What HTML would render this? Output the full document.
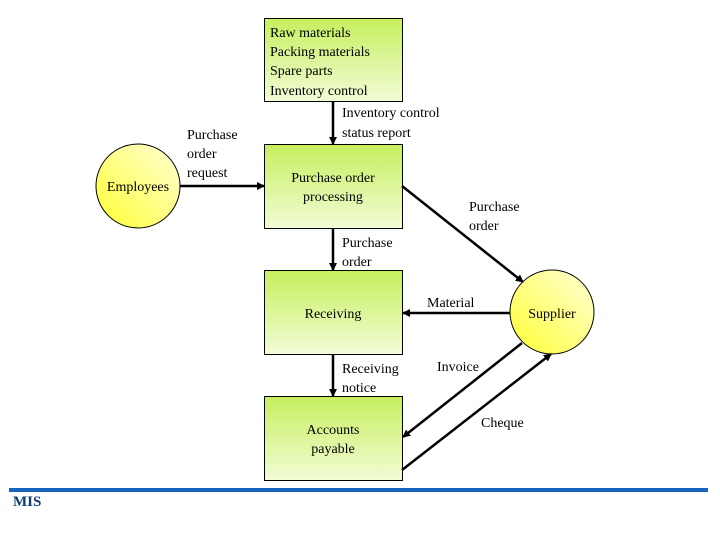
<!DOCTYPE html>
<html><head><meta charset="utf-8"><style>
html,body{margin:0;padding:0;background:#fff;}
svg{display:block;}
text{font-family:"Liberation Serif",serif;font-size:14px;fill:#000;}
</style></head><body>
<svg width="720" height="540" viewBox="0 0 720 540" xmlns="http://www.w3.org/2000/svg">
<defs>
<linearGradient id="g" x1="0" y1="0" x2="0" y2="1">
<stop offset="0" stop-color="#c6ef5e"/><stop offset="1" stop-color="#f2fcd6"/>
</linearGradient>
<linearGradient id="y" x1="0" y1="1" x2="1" y2="0">
<stop offset="0" stop-color="#ffff33"/><stop offset="1" stop-color="#ffffd8"/>
</linearGradient>
<marker id="a" markerWidth="8" markerHeight="8" refX="7" refY="4" orient="auto" markerUnits="userSpaceOnUse">
<path d="M0,0 L8,4 L0,8 z" fill="#000"/>
</marker>
</defs>
<rect x="264.5" y="18.5" width="138" height="83" fill="url(#g)" stroke="#000"/>
<rect x="264.5" y="144.5" width="138" height="84" fill="url(#g)" stroke="#000"/>
<rect x="264.5" y="270.5" width="138" height="84" fill="url(#g)" stroke="#000"/>
<rect x="264.5" y="396.5" width="138" height="84" fill="url(#g)" stroke="#000"/>
<circle cx="138" cy="186" r="42" fill="url(#y)" stroke="#000"/>
<circle cx="552" cy="312" r="42" fill="url(#y)" stroke="#000"/>
<g stroke="#000" stroke-width="2.5" marker-end="url(#a)">
<line x1="333" y1="102" x2="333" y2="144"/>
<line x1="333" y1="229" x2="333" y2="270"/>
<line x1="333" y1="355" x2="333" y2="396"/>
<line x1="180" y1="186" x2="264" y2="186"/>
<line x1="402" y1="186" x2="523" y2="282"/>
<line x1="510" y1="313" x2="403" y2="313"/>
<line x1="522" y1="343" x2="403" y2="437"/>
<line x1="402" y1="470" x2="551" y2="354"/>
</g>
<text x="270" y="37">Raw materials</text>
<text x="270" y="56">Packing materials</text>
<text x="270" y="75">Spare parts</text>
<text x="270" y="95">Inventory control</text>
<text x="342" y="117">Inventory control</text>
<text x="342" y="137">status report</text>
<text x="187" y="139">Purchase</text>
<text x="187" y="158">order</text>
<text x="187" y="177">request</text>
<text x="138" y="191" text-anchor="middle">Employees</text>
<text x="333" y="182" text-anchor="middle">Purchase order</text>
<text x="333" y="201" text-anchor="middle">processing</text>
<text x="469" y="211">Purchase</text>
<text x="469" y="230">order</text>
<text x="342" y="247">Purchase</text>
<text x="342" y="266">order</text>
<text x="333" y="318" text-anchor="middle">Receiving</text>
<text x="427" y="307">Material</text>
<text x="552" y="318" text-anchor="middle">Supplier</text>
<text x="342" y="373">Receiving</text>
<text x="342" y="392">notice</text>
<text x="437" y="371">Invoice</text>
<text x="481" y="427">Cheque</text>
<text x="333" y="434" text-anchor="middle">Accounts</text>
<text x="333" y="453" text-anchor="middle">payable</text>
<rect x="9" y="488" width="699" height="4" fill="#1565c0"/>
<text x="13" y="506" style="font-weight:bold;fill:#0d3c7a;font-size:15px">MIS</text>
</svg>
</body></html>
